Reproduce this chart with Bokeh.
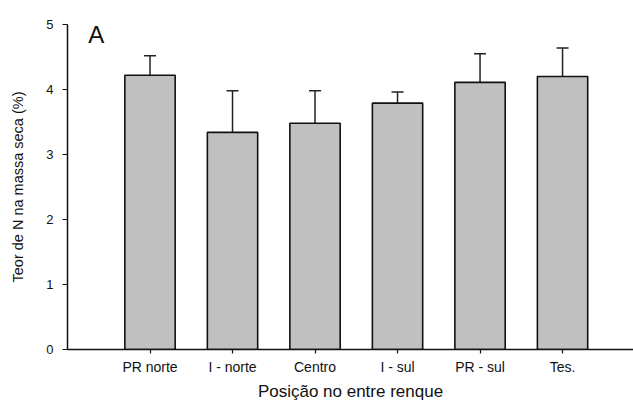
from bokeh.plotting import figure
from bokeh.models import ColumnDataSource, Range1d, FixedTicker, Whisker, TeeHead, Label
from bokeh.embed import file_html
from bokeh.resources import INLINE

categories = ["PR norte", "I - norte", "Centro", "I - sul", "PR - sul", "Tes."]
means = [4.22, 3.34, 3.48, 3.79, 4.11, 4.20]
errors = [0.30, 0.64, 0.50, 0.17, 0.44, 0.44]
y_ticks = [0, 1, 2, 3, 4, 5]

positions = list(range(1, len(categories) + 1))
upper = [m + e for m, e in zip(means, errors)]
src = ColumnDataSource(dict(x=positions, top=means, upper=upper))

FONT = "Liberation Sans"

p = figure(width=633, height=403, output_backend="svg", toolbar_location=None,
           x_range=Range1d(0, 6.86), y_range=Range1d(0, 5),
           min_border_left=67, min_border_right=0, min_border_top=24, min_border_bottom=54)
p.outline_line_color = None
p.xgrid.visible = False
p.ygrid.visible = False
p.background_fill_color = "white"

p.vbar(x="x", top="top", width=0.61, bottom=0, source=src,
       fill_color="#c0c0c0", line_color="#111111", line_width=1.6)

w = Whisker(source=src, base="x", lower="top", upper="upper", dimension="height",
            line_color="#222222", line_width=1.5,
            upper_head=TeeHead(size=12, line_color="#222222", line_width=1.5),
            lower_head=None)
p.add_layout(w)

p.xaxis.ticker = FixedTicker(ticks=positions)
p.xaxis.major_label_overrides = {i: c for i, c in zip(positions, categories)}
p.yaxis.ticker = FixedTicker(ticks=y_ticks)

for ax in (p.xaxis[0], p.yaxis[0]):
    ax.axis_line_color = "#111111"
    ax.axis_line_width = 1.5
    ax.major_tick_line_color = "#111111"
    ax.major_tick_line_width = 1.2
    ax.major_tick_in = 0
    ax.minor_tick_line_color = None
    ax.major_label_text_font = FONT
    ax.major_label_text_color = "#111111"
    ax.axis_label_text_font = FONT
    ax.axis_label_text_font_style = "normal"
    ax.axis_label_text_color = "#111111"

p.xaxis.major_label_text_font_size = "14px"
p.yaxis.major_label_text_font_size = "13px"
p.xaxis.major_tick_out = 4
p.yaxis.major_tick_out = 5
p.xaxis.major_label_standoff = 5
p.yaxis.major_label_standoff = 9
p.xaxis.axis_label = "Posição no entre renque"
p.yaxis.axis_label = "Teor de N na massa seca (%)"
p.xaxis.axis_label_text_font_size = "17px"
p.yaxis.axis_label_text_font_size = "14.5px"
p.xaxis.axis_label_standoff = 4
p.yaxis.axis_label_standoff = 17

lab = Label(x=0.25, y=4.85, text="A", text_font=FONT, text_font_size="24px",
            text_color="#111111", text_baseline="alphabetic")
p.add_layout(lab)

open("out.html", "w").write(file_html(p, INLINE))
